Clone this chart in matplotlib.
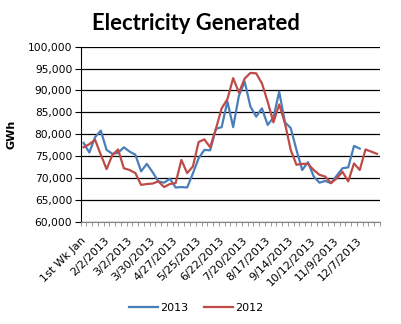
import matplotlib
matplotlib.use("Agg")
import matplotlib.pyplot as plt
import matplotlib.transforms as mtransforms
from matplotlib.ticker import FuncFormatter, FixedLocator

# weekly values (GWh)
gen_2013 = [78000, 75800, 79300, 80800, 76400, 75500, 75700, 77000, 76000, 75300,
            71500, 73200, 71300, 69200, 68900, 69800, 67800, 67900, 67800, 71000,
            74500, 76400, 76300, 81200, 81600, 87500, 81600, 88800, 92000, 86300,
            84000, 85900, 82100, 83800, 89700, 82700, 81400, 76400, 71800, 73600,
            70300, 68900, 69300, 68800, 70500, 72200, 72400, 77300, 76700]
gen_2012 = [77000, 77700, 78700, 75300, 72000, 75200, 76500, 72200, 71800, 71100,
            68400, 68600, 68700, 69200, 67900, 68600, 68800, 74100, 71100, 72600,
            78200, 78800, 77000, 81200, 85900, 88000, 92800, 89500, 92700, 94000,
            93900, 91600, 87400, 82700, 86800, 82500, 76400, 73000, 73200, 73200,
            71800, 70700, 70300, 68800, 69900, 71400, 69200, 73300, 71800, 76500,
            76000, 75500]
tick_labels = ["1st Wk Jan", "2/2/2013", "3/2/2013", "3/30/2013", "4/27/2013",
               "5/25/2013", "6/22/2013", "7/20/2013", "8/17/2013", "9/14/2013",
               "10/12/2013", "11/9/2013", "12/7/2013"]
n_weeks = 52

fig = plt.figure(figsize=(4.02, 3.24), dpi=100)
ax = fig.add_axes([0.2007, 0.316, 0.7443, 0.540])

ax.plot(range(len(gen_2013)), gen_2013, color="#4A7EBB", lw=1.6, label="2013")
ax.plot(range(len(gen_2012)), gen_2012, color="#BE4B48", lw=1.6, label="2012")

ax.set_xlim(-0.5, n_weeks - 0.5)
ax.set_ylim(60000, 100000)
ax.set_yticks(range(60000, 100001, 5000))
ax.yaxis.set_major_formatter(FuncFormatter(lambda v, p: f"{int(v):,}"))
ax.grid(axis="y", color="black", lw=0.9)
ax.set_axisbelow(True)

ax.set_xticks(range(0, n_weeks, 4))
ax.set_xticklabels(tick_labels, rotation=45, ha="right", rotation_mode="anchor")
ax.xaxis.set_minor_locator(FixedLocator([i - 0.5 for i in range(n_weeks + 1)]))
ax.tick_params(axis="x", which="major", length=0, pad=10, labelsize=8)
ax.tick_params(axis="x", which="minor", length=3, color="#868686", direction="out")
ax.tick_params(axis="y", length=4, color="black", labelsize=7.7, pad=2)

# nudge the slanted labels a little to the left
shift = mtransforms.ScaledTranslation(-3 / 100, 0, fig.dpi_scale_trans)
for lbl in ax.get_xticklabels():
    lbl.set_transform(lbl.get_transform() + shift)

for s in ["top", "right"]:
    ax.spines[s].set_visible(False)
ax.spines["bottom"].set_color("#868686")
ax.spines["left"].set_color("black")

ax.set_ylabel("GWh", fontsize=8, fontweight="bold", labelpad=8)
fig.text(0.488, 0.929, "Electricity Generated", ha="center", va="center",
         fontsize=15.8, fontweight="bold", family="Lato")

fig.legend(loc="center", bbox_to_anchor=(0.488, 0.05), ncol=2, frameon=False,
           fontsize=8, handlelength=2.6, handletextpad=0.2, columnspacing=1.4)

fig.savefig("out.png", dpi=100)
